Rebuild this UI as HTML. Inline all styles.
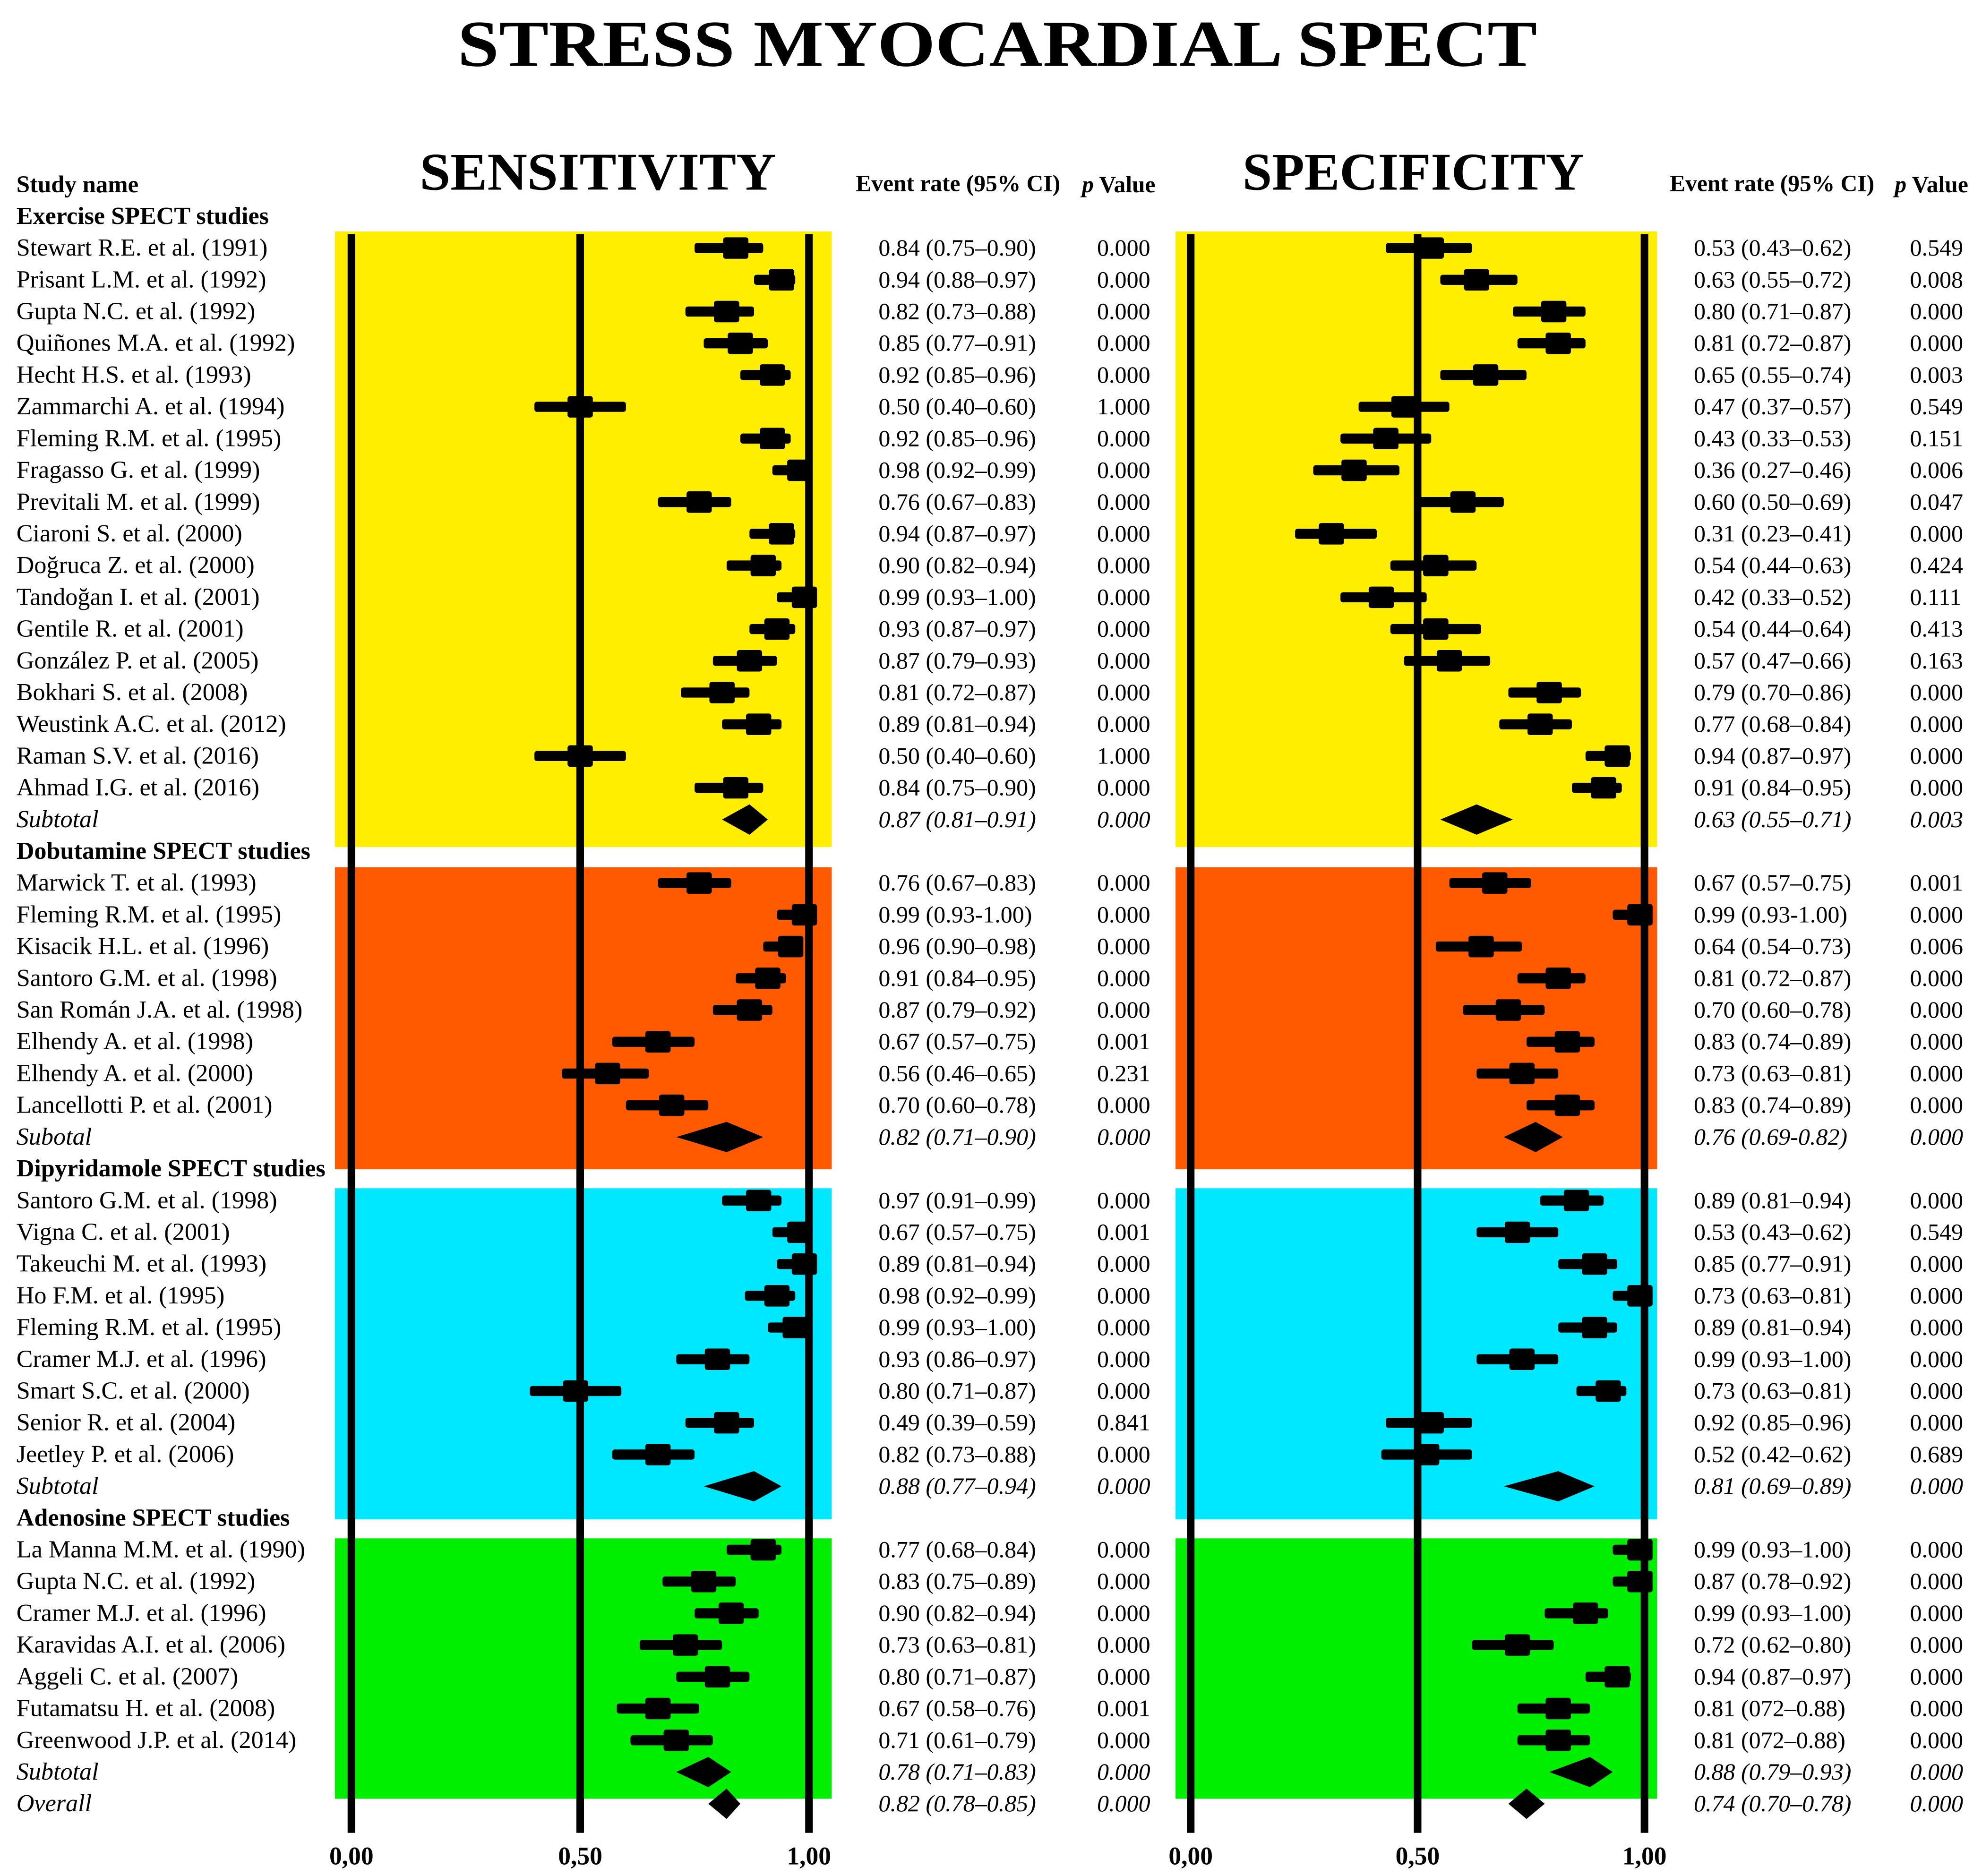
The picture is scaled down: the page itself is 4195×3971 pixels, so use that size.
<!DOCTYPE html>
<html><head><meta charset="utf-8"><style>
html,body{margin:0;padding:0;background:#fff;}
svg{display:block;}
text{font-family:"Liberation Serif",serif;}
</style></head><body>
<svg id="chart" xmlns="http://www.w3.org/2000/svg" width="4195" height="3971" viewBox="0 0 1568 1484">
<rect x="0" y="0" width="1568" height="1484" fill="#fff"/>
<text x="789" y="52" text-anchor="middle" font-size="52" font-weight="bold" textLength="854" lengthAdjust="spacingAndGlyphs">STRESS MYOCARDIAL SPECT</text>
<text x="473" y="150" text-anchor="middle" font-size="42" font-weight="bold" textLength="282" lengthAdjust="spacingAndGlyphs">SENSITIVITY</text>
<text x="1118" y="150" text-anchor="middle" font-size="42" font-weight="bold" textLength="270" lengthAdjust="spacingAndGlyphs">SPECIFICITY</text>
<text x="13" y="152" font-size="19" font-weight="bold">Study name</text>
<text x="677" y="151" font-size="18.5" font-weight="bold">Event rate (95% CI)</text>
<text x="856" y="152" font-size="18.5" font-weight="bold"><tspan font-style="italic">p</tspan> Value</text>
<text x="1321" y="151" font-size="18.5" font-weight="bold">Event rate (95% CI)</text>
<text x="1499" y="152" font-size="18.5" font-weight="bold"><tspan font-style="italic">p</tspan> Value</text>
<g id="bands"></g><g id="axes"></g><g id="marks"></g><g id="labels"></g>
</svg>
<script>
// ---- data ----
const groupNames = ["Exercise SPECT studies","Dobutamine SPECT studies","Dipyridamole SPECT studies","Adenosine SPECT studies"];
const studyNames = [
["Stewart R.E. et al. (1991)","Prisant L.M. et al. (1992)","Gupta N.C. et al. (1992)","Quiñones M.A. et al. (1992)","Hecht H.S. et al. (1993)","Zammarchi A. et al. (1994)","Fleming R.M. et al. (1995)","Fragasso G. et al. (1999)","Previtali M. et al. (1999)","Ciaroni S. et al. (2000)","Doğruca Z. et al. (2000)","Tandoğan I. et al. (2001)","Gentile R. et al. (2001)","González P. et al. (2005)","Bokhari S. et al. (2008)","Weustink A.C. et al. (2012)","Raman S.V. et al. (2016)","Ahmad I.G. et al. (2016)"],
["Marwick T. et al. (1993)","Fleming R.M. et al. (1995)","Kisacik H.L. et al. (1996)","Santoro G.M. et al. (1998)","San Román J.A. et al. (1998)","Elhendy A. et al. (1998)","Elhendy A. et al. (2000)","Lancellotti P. et al. (2001)"],
["Santoro G.M. et al. (1998)","Vigna C. et al. (2001)","Takeuchi M. et al. (1993)","Ho F.M. et al. (1995)","Fleming R.M. et al. (1995)","Cramer M.J. et al. (1996)","Smart S.C. et al. (2000)","Senior R. et al. (2004)","Jeetley P. et al. (2006)"],
["La Manna M.M. et al. (1990)","Gupta N.C. et al. (1992)","Cramer M.J. et al. (1996)","Karavidas A.I. et al. (2006)","Aggeli C. et al. (2007)","Futamatsu H. et al. (2008)","Greenwood J.P. et al. (2014)"]];
const subtotalNames = ["Subtotal","Subotal","Subtotal","Subtotal"];
// sensitivity plotted values
const sensVal = [[.84,.94,.82,.85,.92,.50,.92,.98,.76,.94,.90,.99,.93,.87,.81,.89,.50,.84],[.76,.99,.96,.91,.87,.67,.56,.70],[.89,.98,.99,.93,.97,.80,.49,.82,.67],[.90,.77,.83,.73,.80,.67,.71]];
const sensLo  = [[.75,.88,.73,.77,.85,.40,.85,.92,.67,.87,.82,.93,.87,.79,.72,.81,.40,.75],[.67,.93,.90,.84,.79,.57,.46,.60],[.81,.92,.93,.86,.91,.71,.39,.73,.57],[.82,.68,.75,.63,.71,.58,.61]];
const sensHi  = [[.90,.97,.88,.91,.96,.60,.96,.99,.83,.97,.94,1.0,.97,.93,.87,.94,.60,.90],[.83,1.0,.98,.95,.92,.75,.65,.78],[.94,.99,1.0,.97,.99,.87,.59,.88,.75],[.94,.84,.89,.81,.87,.76,.79]];
const sensSub = [[.87,.81,.91],[.82,.71,.90],[.88,.77,.94],[.78,.71,.83]];
const sensOverall = [.82,.78,.85];
// specificity plotted values
const specVal = [[.53,.63,.80,.81,.65,.47,.43,.36,.60,.31,.54,.42,.54,.57,.79,.77,.94,.91],[.67,.99,.64,.81,.70,.83,.73,.83],[.85,.72,.89,.99,.89,.73,.92,.53,.52],[.99,.99,.87,.72,.94,.81,.81]];
const specLo  = [[.43,.55,.71,.72,.55,.37,.33,.27,.50,.23,.44,.33,.44,.47,.70,.68,.87,.84],[.57,.93,.54,.72,.60,.74,.63,.74],[.77,.63,.81,.93,.81,.63,.85,.43,.42],[.93,.93,.78,.62,.87,.72,.72]];
const specHi  = [[.62,.72,.87,.87,.74,.57,.53,.46,.69,.41,.63,.52,.64,.66,.86,.84,.97,.95],[.75,1.0,.73,.87,.78,.89,.81,.89],[.91,.81,.94,1.0,.94,.81,.96,.62,.62],[1.0,1.0,.92,.80,.97,.88,.88]];
const specSub = [[.63,.55,.71],[.76,.69,.82],[.81,.69,.89],[.88,.79,.93]];
const specOverall = [.74,.70,.78];
// printed table text
const sensText = [["0.84 (0.75–0.90)","0.94 (0.88–0.97)","0.82 (0.73–0.88)","0.85 (0.77–0.91)","0.92 (0.85–0.96)","0.50 (0.40–0.60)","0.92 (0.85–0.96)","0.98 (0.92–0.99)","0.76 (0.67–0.83)","0.94 (0.87–0.97)","0.90 (0.82–0.94)","0.99 (0.93–1.00)","0.93 (0.87–0.97)","0.87 (0.79–0.93)","0.81 (0.72–0.87)","0.89 (0.81–0.94)","0.50 (0.40–0.60)","0.84 (0.75–0.90)"],
["0.76 (0.67–0.83)","0.99 (0.93-1.00)","0.96 (0.90–0.98)","0.91 (0.84–0.95)","0.87 (0.79–0.92)","0.67 (0.57–0.75)","0.56 (0.46–0.65)","0.70 (0.60–0.78)"],
["0.97 (0.91–0.99)","0.67 (0.57–0.75)","0.89 (0.81–0.94)","0.98 (0.92–0.99)","0.99 (0.93–1.00)","0.93 (0.86–0.97)","0.80 (0.71–0.87)","0.49 (0.39–0.59)","0.82 (0.73–0.88)"],
["0.77 (0.68–0.84)","0.83 (0.75–0.89)","0.90 (0.82–0.94)","0.73 (0.63–0.81)","0.80 (0.71–0.87)","0.67 (0.58–0.76)","0.71 (0.61–0.79)"]];
const sensP = [["0.000","0.000","0.000","0.000","0.000","1.000","0.000","0.000","0.000","0.000","0.000","0.000","0.000","0.000","0.000","0.000","1.000","0.000"],["0.000","0.000","0.000","0.000","0.000","0.001","0.231","0.000"],["0.000","0.001","0.000","0.000","0.000","0.000","0.000","0.841","0.000"],["0.000","0.000","0.000","0.000","0.000","0.001","0.000"]];
const sensSubText = ["0.87 (0.81–0.91)","0.82 (0.71–0.90)","0.88 (0.77–0.94)","0.78 (0.71–0.83)"];
const specText = [["0.53 (0.43–0.62)","0.63 (0.55–0.72)","0.80 (0.71–0.87)","0.81 (0.72–0.87)","0.65 (0.55–0.74)","0.47 (0.37–0.57)","0.43 (0.33–0.53)","0.36 (0.27–0.46)","0.60 (0.50–0.69)","0.31 (0.23–0.41)","0.54 (0.44–0.63)","0.42 (0.33–0.52)","0.54 (0.44–0.64)","0.57 (0.47–0.66)","0.79 (0.70–0.86)","0.77 (0.68–0.84)","0.94 (0.87–0.97)","0.91 (0.84–0.95)"],
["0.67 (0.57–0.75)","0.99 (0.93-1.00)","0.64 (0.54–0.73)","0.81 (0.72–0.87)","0.70 (0.60–0.78)","0.83 (0.74–0.89)","0.73 (0.63–0.81)","0.83 (0.74–0.89)"],
["0.89 (0.81–0.94)","0.53 (0.43–0.62)","0.85 (0.77–0.91)","0.73 (0.63–0.81)","0.89 (0.81–0.94)","0.99 (0.93–1.00)","0.73 (0.63–0.81)","0.92 (0.85–0.96)","0.52 (0.42–0.62)"],
["0.99 (0.93–1.00)","0.87 (0.78–0.92)","0.99 (0.93–1.00)","0.72 (0.62–0.80)","0.94 (0.87–0.97)","0.81 (072–0.88)","0.81 (072–0.88)"]];
const specP = [["0.549","0.008","0.000","0.000","0.003","0.549","0.151","0.006","0.047","0.000","0.424","0.111","0.413","0.163","0.000","0.000","0.000","0.000"],["0.001","0.000","0.006","0.000","0.000","0.000","0.000","0.000"],["0.000","0.549","0.000","0.000","0.000","0.000","0.000","0.000","0.689"],["0.000","0.000","0.000","0.000","0.000","0.000","0.000"]];
const specSubText = ["0.63 (0.55–0.71)","0.76 (0.69-0.82)","0.81 (0.69–0.89)","0.88 (0.79–0.93)"];
const sensSubP = ["0.000","0.000","0.000","0.000"];
const specSubP = ["0.003","0.000","0.000","0.000"];
const axisTicks = [0,0.5,1];
const tickLabels = ["0,00","0,50","1,00"];

// ---- scales ----
const NS="http://www.w3.org/2000/svg";
const xL = v => 278 + 362*v;
const xR = v => 942 + 359*v;
const rowY = i => 171 + 25.12*i;
const colors = ["#FFEE00","#FF5A00","#00E8FF","#00EE00"];
const bandTop = [183,686,940,1217];
const bandBot = [670,925,1202,1423];
const bandKeys = ["exercise","dobutamine","dipyridamole","adenosine"];
function mk(parent, tag, attrs, txt){const e=document.createElementNS(NS,tag);for(const k in attrs)e.setAttribute(k,attrs[k]);if(txt!==undefined)e.textContent=txt;document.getElementById(parent).appendChild(e);return e;}

let r=0;
const rowsLayout=[];
for(let g=0;g<4;g++){
  rowsLayout.push({type:"header",g,r}); r++;
  for(let s=0;s<studyNames[g].length;s++){rowsLayout.push({type:"study",g,s,r});r++;}
  rowsLayout.push({type:"sub",g,r}); r++;
}
const overallRow = r;

// bands
for(let g=0;g<4;g++){
  const top = bandTop[g], bot = bandBot[g];
  let b=mk("bands","rect",{x:265,y:top,width:393,height:bot-top,fill:colors[g]});
  
  
  b=mk("bands","rect",{x:930,y:top,width:381,height:bot-top,fill:colors[g]});
  
  
}
// axes
axisTicks.forEach((t,i)=>{
  [[xL,"sens"],[xR,"spec"]].forEach(([sc,p])=>{
    let l=mk("axes","rect",{x:sc(t)-3,y:185,width:6,height:1265,fill:"#000"});
    
    
    let tx=mk("labels","text",{x:sc(t),y:1475,"text-anchor":"middle","font-size":20,"font-weight":"bold","font-family":"Liberation Sans, sans-serif"},tickLabels[i]);
    
    
  });
});
function study(sc,y,v,lo,hi,p,name){
  let l=mk("marks","rect",{x:sc(lo),y:y-4,width:Math.max(1,sc(hi)-sc(lo)),height:8,rx:2,fill:"#000"});
  
  
  let m=mk("marks","rect",{x:sc(v)-10,y:y-8.5,width:20,height:17,rx:2,fill:"#000"});
  
  
}
function diamond(sc,y,a,p,name){
  let d=mk("marks","polygon",{points:`${sc(a[1])},${y} ${sc(a[0])},${y-12} ${sc(a[2])},${y} ${sc(a[0])},${y+12}`,fill:"#000"});
  
  
}
function txt(x,y,s,opts,name,anchor){
  const a={x,y:y+6,"font-size":18.7};
  if(anchor)a["text-anchor"]=anchor;
  Object.assign(a,opts||{});
  const e=mk("labels","text",a,s);
  
  
}
rowsLayout.forEach(o=>{
  const y=rowY(o.r);
  if(o.type==="header"){
    txt(13,y,groupNames[o.g],{"font-weight":"bold","font-size":19.5},"group-header-"+bandKeys[o.g]);
  } else if(o.type==="study"){
    const g=o.g,s=o.s;
    txt(13,y,studyNames[g][s],{"font-size":19.5},"study-name");
    study(xL,y,sensVal[g][s],sensLo[g][s],sensHi[g][s],"sens","study");
    study(xR,y,specVal[g][s],specLo[g][s],specHi[g][s],"spec","study");
    txt(695,y,sensText[g][s],{},"sens-event-rate");
    txt(910,y,sensP[g][s],{},"sens-p-value","end");
    txt(1340,y,specText[g][s],{},"spec-event-rate");
    txt(1511,y,specP[g][s],{},"spec-p-value");
  } else {
    const g=o.g;
    txt(13,y,subtotalNames[g],{"font-style":"italic","font-size":19.5},"subtotal-label");
    diamond(xL,y,sensSub[g],"sens","subtotal");
    diamond(xR,y,specSub[g],"spec","subtotal");
    txt(695,y,sensSubText[g],{"font-style":"italic"},"sens-subtotal-rate");
    txt(910,y,sensSubP[g],{"font-style":"italic"},"sens-subtotal-p","end");
    txt(1340,y,specSubText[g],{"font-style":"italic"},"spec-subtotal-rate");
    txt(1511,y,specSubP[g],{"font-style":"italic"},"spec-subtotal-p");
  }
});
const oy=rowY(overallRow);
txt(13,oy,"Overall",{"font-style":"italic","font-size":19.5},"overall-label");
diamond(xL,oy,sensOverall,"sens","overall");
diamond(xR,oy,specOverall,"spec","overall");
txt(695,oy,"0.82 (0.78–0.85)",{"font-style":"italic"},"sens-overall-rate");
txt(910,oy,"0.000",{"font-style":"italic"},"sens-overall-p","end");
txt(1340,oy,"0.74 (0.70–0.78)",{"font-style":"italic"},"spec-overall-rate");
txt(1511,oy,"0.000",{"font-style":"italic"},"spec-overall-p");
</script>
</body></html>
